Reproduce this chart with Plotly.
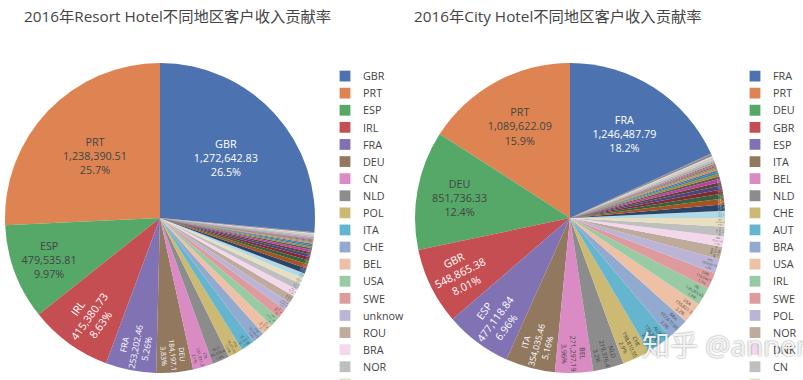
import colorsys
import plotly.graph_objects as go

# ---------------- data ----------------
resort_countries = [
    "GBR", "PRT", "ESP", "IRL", "FRA", "DEU", "CN", "NLD", "POL", "ITA",
    "CHE", "BEL", "USA", "SWE", "unknow", "ROU", "BRA", "NOR", "AUT", "DNK",
    "RUS", "FIN", "LUX", "ISR", "CZE", "AUS", "ARG", "CHN", "HUN", "AGO",
    "MAR", "LTU", "IND", "JPN", "TUR", "GRC", "EST", "LVA", "SVN", "SVK",
    "HRV", "CAN", "MEX", "ZAF", "KOR", "BGR", "UKR", "SRB", "ISL", "MOZ",
    "CPV", "NGA", "DZA", "TUN", "CHL", "COL", "PER", "URY", "VEN", "IRN",
    "SAU", "ARE", "EGY", "PHL", "THA", "SGP", "MYS", "IDN", "NZL", "CYP",
]
resort_revenue = [
    1272642.83, 1238390.51, 479535.81, 415380.73, 253202.46, 184197.10,
    101031.20, 86598.40, 74571.65, 67354.10, 62543.25, 57732.80, 52921.35,
    48110.90, 43299.45, 38488.60, 36083.15, 33677.70, 28866.25, 26461.80,
    26000, 22000, 19000, 16500, 14000, 12000, 10500, 9200, 8200, 7300,
    7000, 6300, 5700, 5100, 4600, 4100, 3700, 3300, 2950, 2600,
    2350, 2100, 1950, 1700, 1500, 1330, 1190, 1050, 940, 830,
    740, 600, 530, 470, 410, 360, 310, 270, 230, 200,
    170, 140, 120, 100, 80, 65, 50, 40, 30, 20,
]

city_countries = [
    "FRA", "PRT", "DEU", "GBR", "ESP", "ITA", "BEL", "NLD", "CHE", "AUT",
    "BRA", "USA", "IRL", "SWE", "POL", "NOR", "DNK", "CN", "RUS", "ISR",
    "FIN", "AUS", "CHN", "JPN", "KOR", "LUX", "CZE", "ARG", "HUN", "TUR",
    "GRC", "ROU", "IND", "MAR", "AGO", "EST", "LVA", "LTU", "SVN", "SVK",
    "HRV", "CAN", "MEX", "ZAF", "BGR", "UKR", "SRB", "ISL", "MOZ", "CPV",
    "NGA", "DZA", "TUN", "CHL", "COL", "PER", "URY", "VEN", "IRN", "SAU",
    "ARE", "EGY", "PHL", "THA", "SGP", "MYS", "IDN", "NZL", "CYP", "MLT",
    "TWN", "HKG", "MAC", "LBN", "JOR", "QAT", "KWT", "OMN", "PAK", "BGD",
    "VNM", "GEO", "ARM", "AZE", "BLR",
]
city_revenue = [
    1246487.79, 1089622.09, 851736.33, 548865.38, 477118.84, 354035.46,
    271297.19, 219376.40, 198810.55, 178243.20, 157677.85, 150821.30,
    130255.65, 116544.10, 102833.75, 89122.40, 75411.05, 68555.70,
    61700.35, 51416.90,
    46000, 40000, 35000, 31500, 28000, 24500, 22000, 19500, 17000, 14500,
    13000, 11800, 10600, 9600, 8700, 7900, 7200, 6500, 5900, 5400,
    4900, 4450, 4050, 3700, 3350, 3050, 2750, 2500, 2250, 2050,
    1850, 1680, 1520, 1380, 1250, 1130, 1020, 920, 830, 750,
    680, 610, 550, 500, 450, 400, 360, 320, 290, 260,
    230, 200, 180, 160, 140, 120, 100, 85, 70, 60,
    50, 40, 30, 25, 20,
]

title_resort = "2016年Resort Hotel不同地区客户收入贡献率"
title_city = "2016年City Hotel不同地区客户收入贡献率"
watermark = "知乎 @annemy"

palette = ["#4C72B0", "#DD8452", "#55A868", "#C44E52", "#8172B3",
           "#937860", "#DA8BC3", "#8C8C8C", "#CCB974", "#64B5CD"]


# plotly's "extendpiecolors": base colours, then 20% lighter, then 20% darker
def shift_lightness(hex_color, delta):
    r, g, b = (int(hex_color[i:i + 2], 16) / 255 for i in (1, 3, 5))
    h, l, s = colorsys.rgb_to_hls(r, g, b)
    l = min(1.0, max(0.0, l + delta))
    r, g, b = colorsys.hls_to_rgb(h, l, s)
    return "#%02x%02x%02x" % (round(r * 255), round(g * 255), round(b * 255))


extended = (palette + [shift_lightness(c, 0.2) for c in palette]
            + [shift_lightness(c, -0.2) for c in palette])


def slice_colors(n):
    return [extended[i % len(extended)] for i in range(n)]


FONT = "Open Sans, Noto Sans CJK SC, sans-serif"
W, H = 803, 380

fig = go.Figure()
fig.add_trace(go.Pie(
    labels=resort_countries, values=resort_revenue,
    domain=dict(x=[5 / W, 315 / W], y=[7 / H, 317 / H]),
    textinfo="label+value+percent", textposition="inside",
    textfont=dict(size=10.8, family=FONT),
    marker=dict(colors=slice_colors(len(resort_revenue))),
    legend="legend", name="Resort Hotel",
))
# zero-width space keeps the City legend independent of the Resort legend
fig.add_trace(go.Pie(
    labels=[c + "\u200b" for c in city_countries], values=city_revenue,
    domain=dict(x=[415 / W, 725 / W], y=[7 / H, 317 / H]),
    textinfo="label+value+percent", textposition="inside",
    textfont=dict(size=10.8, family=FONT),
    marker=dict(colors=slice_colors(len(city_revenue))),
    legend="legend2", name="City Hotel",
))

leg_common = dict(
    xanchor="left", yanchor="top", bgcolor="rgba(0,0,0,0)",
    font=dict(size=12, family=FONT, color="#444"), maxheight=2000,
)
fig.update_layout(
    width=W, height=H,
    margin=dict(l=0, r=0, t=0, b=0, autoexpand=False),
    paper_bgcolor="white", plot_bgcolor="white",
    font=dict(family=FONT, color="#444"),
    legend=dict(x=327 / W, y=(H - 63) / H, **leg_common),
    legend2=dict(x=737 / W, y=(H - 63) / H, **leg_common),
    annotations=[
        dict(text=title_resort, x=22 / W, y=(H - 16) / H, xref="paper", yref="paper",
             xanchor="left", yanchor="middle", showarrow=False,
             font=dict(size=15.3, family=FONT, color="#444")),
        dict(text=title_city, x=412 / W, y=(H - 16) / H, xref="paper", yref="paper",
             xanchor="left", yanchor="middle", showarrow=False,
             font=dict(size=15.3, family=FONT, color="#444")),
        dict(text=watermark, x=640 / W, y=(H - 345) / H, xref="paper", yref="paper",
             xanchor="left", yanchor="middle", showarrow=False,
             font=dict(size=28, family=FONT, color="rgba(255,255,255,0.9)",
                       shadow="0px 0px 2px rgba(0,0,0,0.55)")),
    ],
)

post = """
document.body.style.margin = '0';
var gd = document.getElementById('{plot_id}');
gd.querySelectorAll('g.legend, g.legend2').forEach(function(g){
  var t = g.getAttribute('transform') || '';
  g.setAttribute('transform', t + ' scale(0.9)');
});
"""
fig.write_html("out.html", post_script=post, config={"displayModeBar": False})
